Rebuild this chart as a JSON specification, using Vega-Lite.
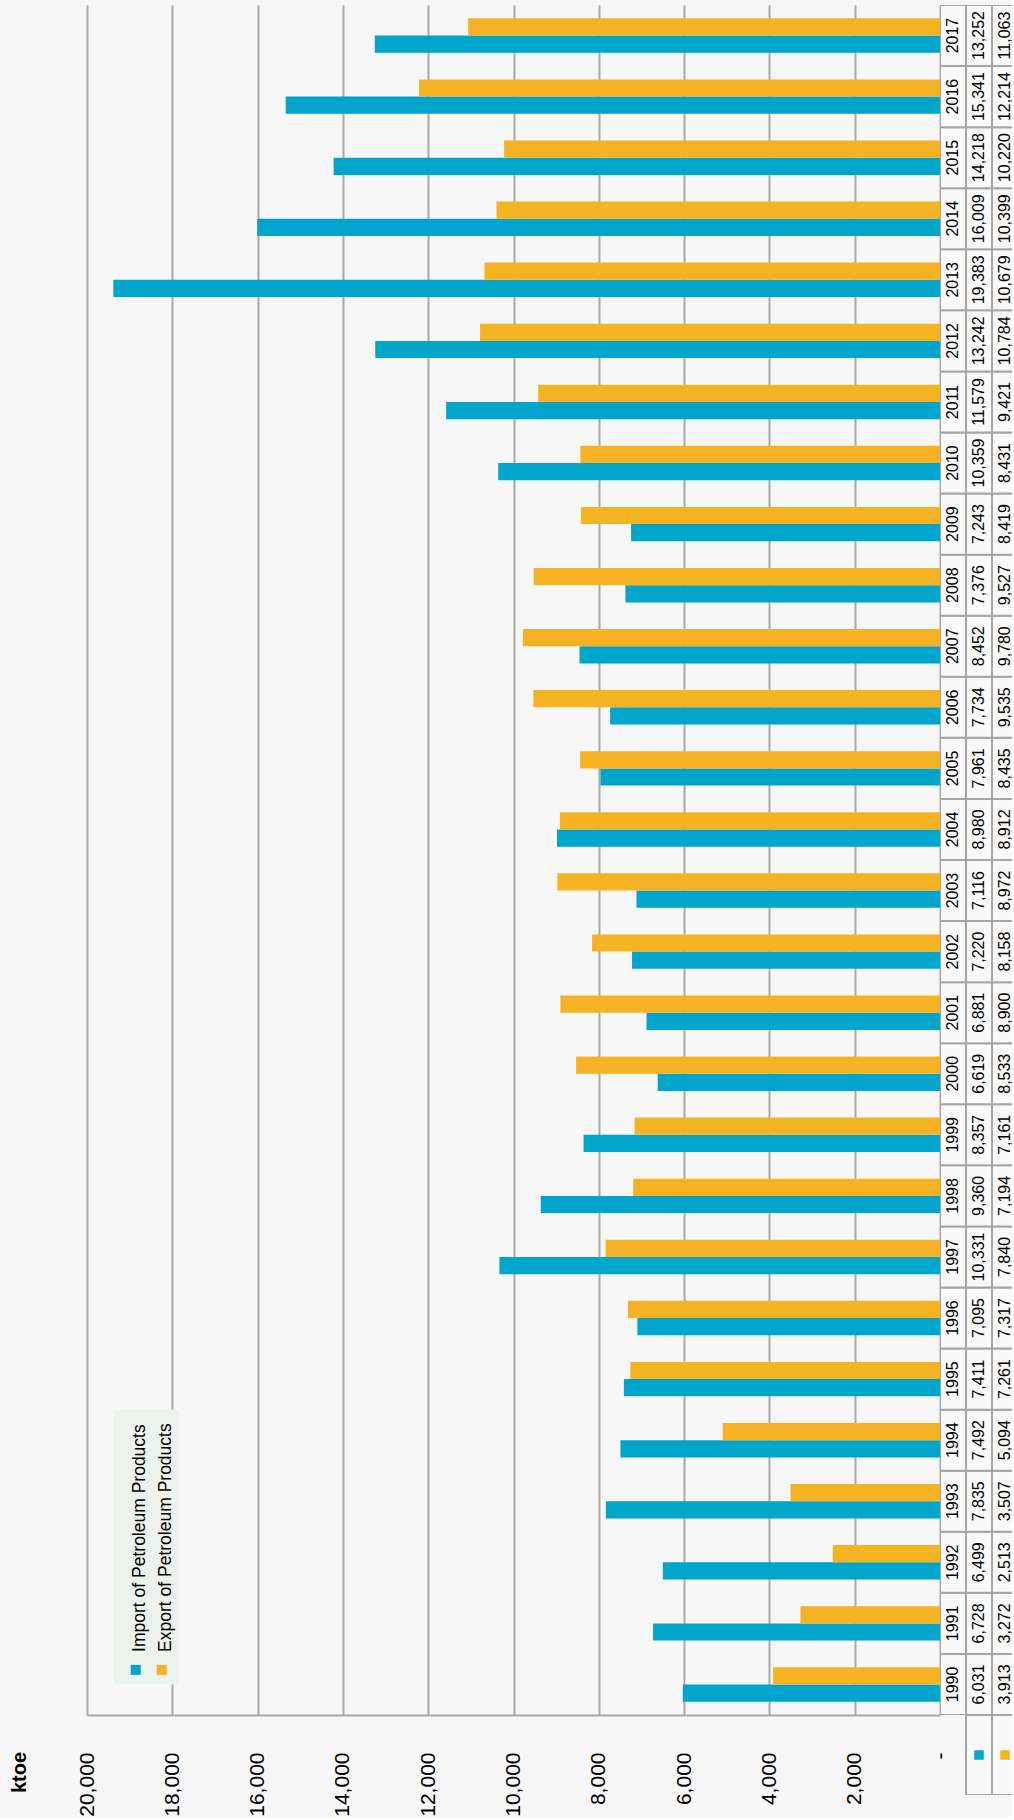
{
  "$schema": "https://vega.github.io/schema/vega-lite/v6.json",
  "background": "#f7f7f7",
  "padding": {"left": 9, "top": 5, "right": 0, "bottom": 0},
  "bounds": "flush",
  "spacing": 0,
  "config": {"view": {"stroke": null}},
  "datasets": {
    "energy": [
      {"Year": 1990, "Import": 6031, "Export": 3913},
      {"Year": 1991, "Import": 6728, "Export": 3272},
      {"Year": 1992, "Import": 6499, "Export": 2513},
      {"Year": 1993, "Import": 7835, "Export": 3507},
      {"Year": 1994, "Import": 7492, "Export": 5094},
      {"Year": 1995, "Import": 7411, "Export": 7261},
      {"Year": 1996, "Import": 7095, "Export": 7317},
      {"Year": 1997, "Import": 10331, "Export": 7840},
      {"Year": 1998, "Import": 9360, "Export": 7194},
      {"Year": 1999, "Import": 8357, "Export": 7161},
      {"Year": 2000, "Import": 6619, "Export": 8533},
      {"Year": 2001, "Import": 6881, "Export": 8900},
      {"Year": 2002, "Import": 7220, "Export": 8158},
      {"Year": 2003, "Import": 7116, "Export": 8972},
      {"Year": 2004, "Import": 8980, "Export": 8912},
      {"Year": 2005, "Import": 7961, "Export": 8435},
      {"Year": 2006, "Import": 7734, "Export": 9535},
      {"Year": 2007, "Import": 8452, "Export": 9780},
      {"Year": 2008, "Import": 7376, "Export": 9527},
      {"Year": 2009, "Import": 7243, "Export": 8419},
      {"Year": 2010, "Import": 10359, "Export": 8431},
      {"Year": 2011, "Import": 11579, "Export": 9421},
      {"Year": 2012, "Import": 13242, "Export": 10784},
      {"Year": 2013, "Import": 19383, "Export": 10679},
      {"Year": 2014, "Import": 16009, "Export": 10399},
      {"Year": 2015, "Import": 14218, "Export": 10220},
      {"Year": 2016, "Import": 15341, "Export": 12214},
      {"Year": 2017, "Import": 13252, "Export": 11063}
    ],
    "legendcells": [{"col": "Import"}, {"col": "Export"}],
    "legendbox": [{"box": "legend"}]
  },
  "resolve": {"scale": {"color": "independent", "x": "independent", "y": "independent"}},
  "hconcat": [
    {
      "width": 853,
      "height": 1710,
      "encoding": {
        "y": {"field": "Year", "type": "ordinal", "sort": "descending", "axis": null,
              "scale": {"domain": [2017, 2016, 2015, 2014, 2013, 2012, 2011, 2010, 2009, 2008, 2007, 2006, 2005, 2004, 2003, 2002, 2001, 2000, 1999, 1998, 1997, 1996, 1995, 1994, 1993, 1992, 1991, 1990],
                        "paddingInner": 0, "paddingOuter": 0}}
      },
      "layer": [
        {
          "data": {"name": "legendbox"},
          "mark": {"type": "rect", "fill": "#ecf2ec"},
          "encoding": {
            "x": {"datum": 19370, "type": "quantitative"},
            "x2": {"datum": 17840},
            "y": {"datum": 1994, "type": "ordinal", "bandPosition": 0},
            "y2": {"datum": 1990}
          }
        },
        {
          "data": {"name": "energy"},
          "transform": [{"fold": ["Import", "Export"], "as": ["series", "value"]}],
          "mark": {"type": "bar"},
          "encoding": {
            "yOffset": {"field": "series", "type": "nominal", "sort": ["Export", "Import"],
                        "scale": {"paddingInner": 0, "paddingOuter": 0.775}},
            "x": {"field": "value", "type": "quantitative",
                  "scale": {"domain": [0, 20000], "reverse": true, "nice": false},
                  "axis": {
                    "orient": "bottom",
                    "values": [0, 2000, 4000, 6000, 8000, 10000, 12000, 14000, 16000, 18000, 20000],
                    "grid": true, "gridColor": "#a9a9a9", "gridWidth": 2,
                    "domainColor": "#a9a9a9", "domainWidth": 2,
                    "ticks": false,
                    "labelAngle": 270, "labelAlign": "right", "labelBaseline": "middle",
                    "labelPadding": 37, "labelFlush": false, "labelOverlap": false,
                    "labelExpr": "datum.value == 0 ? '-' : format(datum.value, ',')",
                    "labelFont": "Liberation Sans",
                    "labelFontSize": 21, "labelColor": "#000000",
                    "title": "ktoe",
                    "titleFont": "Liberation Sans",
                    "titleFontSize": 20, "titleFontWeight": "bold", "titleColor": "#000000",
                    "titleAngle": 270, "titleAlign": "center", "titleBaseline": "middle",
                    "titleX": -68, "titleY": 57
                  }},
            "color": {"field": "series", "type": "nominal",
                      "scale": {"domain": ["Import", "Export"], "range": ["#00a5cb", "#f5b324"]},
                      "legend": {
                        "title": null,
                        "orient": "bottom-left",
                        "offset": 40,
                        "padding": 0,
                        "direction": "horizontal",
                        "symbolType": "square",
                        "symbolSize": 100,
                        "symbolStrokeWidth": 0,
                        "labelOffset": -5,
                        "labelFont": "Liberation Sans",
                        "labelFontSize": 17.5,
                        "labelColor": "#000000",
                        "labelLimit": 0,
                        "labelExpr": "datum.label == 'Import' ? 'Import of Petroleum Products' : 'Export of Petroleum Products'",
                        "columnPadding": 5,
                        "encode": {"labels": {"update": {"angle": {"value": 270}, "dx": {"value": 18}}}}
                      }}
          }
        }
      ]
    },
    {
      "spacing": 0,
      "bounds": "flush",
      "resolve": {"scale": {"x": "independent", "color": "independent"}},
      "vconcat": [
        {
          "width": 72,
          "height": 1710,
          "data": {"name": "energy"},
          "transform": [{"fold": ["Year", "Import", "Export"], "as": ["col", "val"]}],
          "encoding": {
            "y": {"field": "Year", "type": "ordinal", "sort": "descending", "axis": null,
                  "scale": {"paddingInner": 0, "paddingOuter": 0}},
            "x": {"field": "col", "type": "nominal", "axis": null,
                  "scale": {"domain": ["Year", "Import", "Export"], "range": [0, 78], "paddingInner": 0, "paddingOuter": 0}}
          },
          "layer": [
            {"mark": {"type": "rect", "fill": "#f9f9f9", "stroke": "#a6a6a6", "strokeWidth": 2, "clip": true}},
            {"transform": [{"filter": "datum.col == 'Year'"}],
             "mark": {"type": "text", "angle": 270, "font": "Liberation Sans", "fontSize": 16, "color": "#000000", "clip": true},
             "encoding": {"text": {"field": "Year", "type": "nominal"}}},
            {"transform": [{"filter": "datum.col != 'Year'"}],
             "mark": {"type": "text", "angle": 270, "font": "Liberation Sans", "fontSize": 16, "color": "#000000", "clip": true},
             "encoding": {"text": {"field": "val", "type": "quantitative", "format": ","}}}
          ]
        },
        {
          "width": 72,
          "height": 80,
          "data": {"name": "legendcells"},
          "encoding": {
            "x": {"field": "col", "type": "nominal", "axis": null,
                  "scale": {"domain": ["Year", "Import", "Export"], "range": [0, 78], "paddingInner": 0, "paddingOuter": 0}}
          },
          "layer": [
            {"mark": {"type": "rect", "fill": "#f9f9f9", "stroke": "#a6a6a6", "strokeWidth": 2, "clip": true}},
            {"mark": {"type": "square", "size": 90, "opacity": 1, "filled": true, "clip": true},
             "encoding": {"color": {"field": "col", "type": "nominal",
                                    "scale": {"domain": ["Import", "Export"], "range": ["#00a5cb", "#f5b324"]},
                                    "legend": null}}}
          ]
        }
      ]
    }
  ]
}
